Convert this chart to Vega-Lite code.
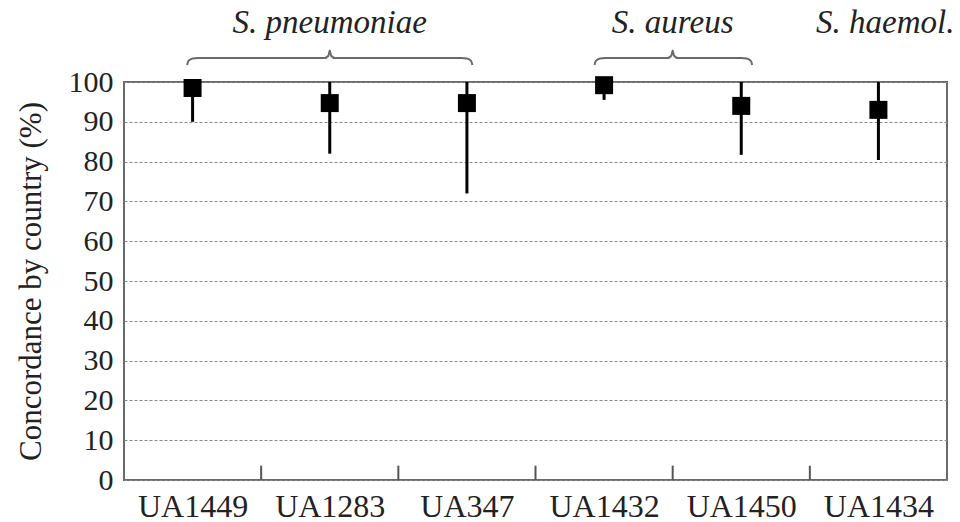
{
  "$schema": "https://vega.github.io/schema/vega-lite/v6.json",
  "width": 823,
  "height": 398,
  "autosize": {"type": "none"},
  "padding": {"left": 124, "top": 82, "right": 13, "bottom": 42},
  "background": "white",
  "config": {
    "view": {"stroke": "#6a6a6a", "strokeWidth": 2},
    "font": "Liberation Serif",
    "axis": {"labelFont": "Liberation Serif", "titleFont": "Liberation Serif", "labelColor": "#222", "titleColor": "#222"}
  },
  "datasets": {
    "pts": [
      {"id": "UA1449", "i": 0, "val": 98.5, "lo": 90, "hi": 100},
      {"id": "UA1283", "i": 1, "val": 94.7, "lo": 82, "hi": 100},
      {"id": "UA347", "i": 2, "val": 94.7, "lo": 72, "hi": 100},
      {"id": "UA1432", "i": 3, "val": 99.2, "lo": 95.5, "hi": 100},
      {"id": "UA1450", "i": 4, "val": 94, "lo": 81.7, "hi": 100},
      {"id": "UA1434", "i": 5, "val": 93, "lo": 80.4, "hi": 100}
    ],
    "bounds": [{"b": 0.5}, {"b": 1.5}, {"b": 2.5}, {"b": 3.5}, {"b": 4.5}],
    "brace": [
      {"g": "pn", "o": 0, "bx": -0.04, "by": 104.3},
      {"g": "pn", "o": 1, "bx": -0.03, "by": 105.3},
      {"g": "pn", "o": 2, "bx": 0.0, "by": 105.9},
      {"g": "pn", "o": 3, "bx": 0.04, "by": 106.0},
      {"g": "pn", "o": 4, "bx": 0.96, "by": 106.0},
      {"g": "pn", "o": 5, "bx": 0.99, "by": 106.6},
      {"g": "pn", "o": 6, "bx": 1.0, "by": 107.9},
      {"g": "pn", "o": 7, "bx": 1.01, "by": 106.6},
      {"g": "pn", "o": 8, "bx": 1.04, "by": 106.0},
      {"g": "pn", "o": 9, "bx": 1.96, "by": 106.0},
      {"g": "pn", "o": 10, "bx": 2.0, "by": 105.9},
      {"g": "pn", "o": 11, "bx": 2.03, "by": 105.3},
      {"g": "pn", "o": 12, "bx": 2.04, "by": 104.3},
      {"g": "au", "o": 0, "bx": 2.93, "by": 104.3},
      {"g": "au", "o": 1, "bx": 2.94, "by": 105.3},
      {"g": "au", "o": 2, "bx": 2.97, "by": 105.9},
      {"g": "au", "o": 3, "bx": 3.01, "by": 106.0},
      {"g": "au", "o": 4, "bx": 3.46, "by": 106.0},
      {"g": "au", "o": 5, "bx": 3.49, "by": 106.6},
      {"g": "au", "o": 6, "bx": 3.5, "by": 107.9},
      {"g": "au", "o": 7, "bx": 3.51, "by": 106.6},
      {"g": "au", "o": 8, "bx": 3.54, "by": 106.0},
      {"g": "au", "o": 9, "bx": 4.0, "by": 106.0},
      {"g": "au", "o": 10, "bx": 4.04, "by": 105.9},
      {"g": "au", "o": 11, "bx": 4.07, "by": 105.3},
      {"g": "au", "o": 12, "bx": 4.08, "by": 104.3}
    ],
    "groups": [
      {"lab": "S. pneumoniae", "tx": 1.0},
      {"lab": "S. aureus", "tx": 3.5},
      {"lab": "S. haemol.", "tx": 5.05}
    ]
  },
  "layer": [
    {
      "data": {"name": "pts"},
      "mark": {"type": "rule", "color": "black", "strokeWidth": 3},
      "encoding": {
        "x": {
          "field": "i", "type": "quantitative",
          "scale": {"domain": [-0.5, 5.5], "nice": false, "zero": false},
          "axis": {
            "values": [0, 1, 2, 3, 4, 5],
            "labelExpr": "['UA1449','UA1283','UA347','UA1432','UA1450','UA1434'][datum.value]",
            "ticks": false, "domain": false, "grid": false, "labelOverlap": false,
            "labelFontSize": 32, "labelPadding": 11, "title": null
          }
        },
        "y": {
          "field": "lo", "type": "quantitative",
          "scale": {"domain": [0, 100], "nice": false},
          "axis": {
            "values": [0, 10, 20, 30, 40, 50, 60, 70, 80, 90, 100],
            "labelOverlap": false,
            "domain": false, "tickSize": 0,
            "grid": true, "gridColor": "#8a8a8a", "gridDash": [3, 2], "gridWidth": 1.2,
            "labelFontSize": 30, "labelPadding": 11,
            "title": "Concordance by country (%)", "titleFontSize": 31, "titleFontWeight": "normal",
            "titlePadding": 21
          }
        },
        "y2": {"field": "hi"}
      }
    },
    {
      "data": {"name": "pts"},
      "mark": {"type": "point", "shape": "square", "filled": true, "color": "black", "size": 324, "opacity": 1},
      "encoding": {
        "x": {
          "field": "i", "type": "quantitative",
          "axis": {
            "values": [0, 1, 2, 3, 4, 5],
            "labelExpr": "['UA1449','UA1283','UA347','UA1432','UA1450','UA1434'][datum.value]",
            "ticks": false, "domain": false, "grid": false, "labelOverlap": false,
            "labelFontSize": 32, "labelPadding": 11, "title": null
          }
        },
        "y": {
          "field": "val", "type": "quantitative",
          "axis": {
            "values": [0, 10, 20, 30, 40, 50, 60, 70, 80, 90, 100],
            "labelOverlap": false,
            "domain": false, "tickSize": 0,
            "grid": true, "gridColor": "#8a8a8a", "gridDash": [3, 2], "gridWidth": 1.2,
            "labelFontSize": 30, "labelPadding": 11,
            "title": "Concordance by country (%)", "titleFontSize": 31, "titleFontWeight": "normal",
            "titlePadding": 21
          }
        }
      }
    },
    {
      "data": {"name": "bounds"},
      "mark": {"type": "rule", "color": "#555", "strokeWidth": 2},
      "encoding": {
        "x": {
          "field": "b", "type": "quantitative",
          "axis": {
            "values": [0, 1, 2, 3, 4, 5],
            "labelExpr": "['UA1449','UA1283','UA347','UA1432','UA1450','UA1434'][datum.value]",
            "ticks": false, "domain": false, "grid": false, "labelOverlap": false,
            "labelFontSize": 32, "labelPadding": 11, "title": null
          }
        },
        "y": {
          "datum": 0, "type": "quantitative",
          "axis": {
            "values": [0, 10, 20, 30, 40, 50, 60, 70, 80, 90, 100],
            "labelOverlap": false,
            "domain": false, "tickSize": 0,
            "grid": true, "gridColor": "#8a8a8a", "gridDash": [3, 2], "gridWidth": 1.2,
            "labelFontSize": 30, "labelPadding": 11,
            "title": "Concordance by country (%)", "titleFontSize": 31, "titleFontWeight": "normal",
            "titlePadding": 21
          }
        },
        "y2": {"datum": 3.6}
      }
    },
    {
      "data": {"name": "brace"},
      "mark": {"type": "line", "color": "#6a6a6a", "strokeWidth": 2, "interpolate": "monotone"},
      "encoding": {
        "x": {
          "field": "bx", "type": "quantitative",
          "axis": {
            "values": [0, 1, 2, 3, 4, 5],
            "labelExpr": "['UA1449','UA1283','UA347','UA1432','UA1450','UA1434'][datum.value]",
            "ticks": false, "domain": false, "grid": false, "labelOverlap": false,
            "labelFontSize": 32, "labelPadding": 11, "title": null
          }
        },
        "y": {
          "field": "by", "type": "quantitative",
          "axis": {
            "values": [0, 10, 20, 30, 40, 50, 60, 70, 80, 90, 100],
            "labelOverlap": false,
            "domain": false, "tickSize": 0,
            "grid": true, "gridColor": "#8a8a8a", "gridDash": [3, 2], "gridWidth": 1.2,
            "labelFontSize": 30, "labelPadding": 11,
            "title": "Concordance by country (%)", "titleFontSize": 31, "titleFontWeight": "normal",
            "titlePadding": 21
          }
        },
        "detail": {"field": "g"},
        "order": {"field": "o"}
      }
    },
    {
      "data": {"name": "groups"},
      "mark": {"type": "text", "font": "Liberation Serif", "fontStyle": "italic", "fontSize": 33, "color": "#222", "align": "center", "baseline": "alphabetic"},
      "encoding": {
        "x": {
          "field": "tx", "type": "quantitative",
          "axis": {
            "values": [0, 1, 2, 3, 4, 5],
            "labelExpr": "['UA1449','UA1283','UA347','UA1432','UA1450','UA1434'][datum.value]",
            "ticks": false, "domain": false, "grid": false, "labelOverlap": false,
            "labelFontSize": 32, "labelPadding": 11, "title": null
          }
        },
        "y": {
          "datum": 112.3, "type": "quantitative",
          "axis": {
            "values": [0, 10, 20, 30, 40, 50, 60, 70, 80, 90, 100],
            "labelOverlap": false,
            "domain": false, "tickSize": 0,
            "grid": true, "gridColor": "#8a8a8a", "gridDash": [3, 2], "gridWidth": 1.2,
            "labelFontSize": 30, "labelPadding": 11,
            "title": "Concordance by country (%)", "titleFontSize": 31, "titleFontWeight": "normal",
            "titlePadding": 21
          }
        },
        "text": {"field": "lab"}
      }
    }
  ]
}
